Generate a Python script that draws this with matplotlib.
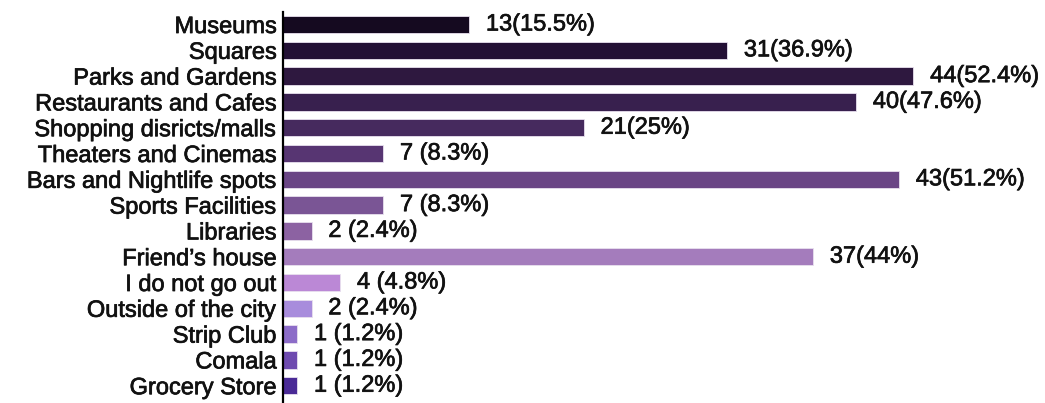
"""
Horizontal bar chart: places people go out to, with counts and percentages.
"""
import matplotlib.pyplot as plt
import matplotlib.patheffects as pe

# Categories, top to bottom
places = [
    "Museums", "Squares", "Parks and Gardens", "Restaurants and Cafes",
    "Shopping disricts/malls", "Theaters and Cinemas", "Bars and Nightlife spots",
    "Sports Facilities", "Libraries", "Friend\u2019s house", "I do not go out",
    "Outside of the city", "Strip Club", "Comala", "Grocery Store",
]
counts = [13, 31, 44, 40, 21, 7, 43, 7, 2, 37, 4, 2, 1, 1, 1]
value_labels = [
    "13(15.5%)", "31(36.9%)", "44(52.4%)", "40(47.6%)", "21(25%)",
    "7 (8.3%)", "43(51.2%)", "7 (8.3%)", "2 (2.4%)", "37(44%)",
    "4 (4.8%)", "2 (2.4%)", "1 (1.2%)", "1 (1.2%)", "1 (1.2%)",
]
bar_colors = [
    "#150a20", "#231035", "#2e183f", "#38204e", "#462a5e",
    "#573572", "#6a4585", "#7a5595", "#8c62a2", "#a47cbc",
    "#bb88d6", "#a88cdc", "#8c6cc8", "#6e4aaf", "#4a2a96",
]

plt.rcParams['font.family'] = ['Liberation Sans', 'DejaVu Sans']

# slightly heavier strokes for the text
heavy = [pe.withStroke(linewidth=0.5, foreground="#111111")]

fig = plt.figure(figsize=(10.45, 4.03), dpi=100)
ax = fig.add_axes([0.2708, 0.0, 0.6856, 0.9702])

ypos = list(range(len(places)))
bars = ax.barh(ypos, counts, height=0.67, color=bar_colors,
               edgecolor="#e8e0ee", linewidth=0.6)

# Value annotations to the right of each bar
for rect, txt in zip(bars, value_labels):
    ax.annotate(txt, (rect.get_width(), rect.get_y() + rect.get_height() / 2),
                xytext=(12, 0), textcoords="offset points",
                ha="left", va="center", fontsize=17, color="#111111",
                path_effects=heavy)

ax.set_yticks(ypos)
ax.set_yticklabels(places, fontsize=17, color="#111111")
for lbl in ax.get_yticklabels():
    lbl.set_path_effects(heavy)
ax.tick_params(axis="y", length=0, pad=4.5)
ax.set_xticks([])

ax.set_xlim(0, 50)
ax.set_ylim(14.67, -0.485)

for side in ("top", "right", "bottom"):
    ax.spines[side].set_visible(False)
ax.spines["left"].set_linewidth(1.6)
ax.spines["left"].set_color("black")

fig.savefig("out.png", dpi=100)
